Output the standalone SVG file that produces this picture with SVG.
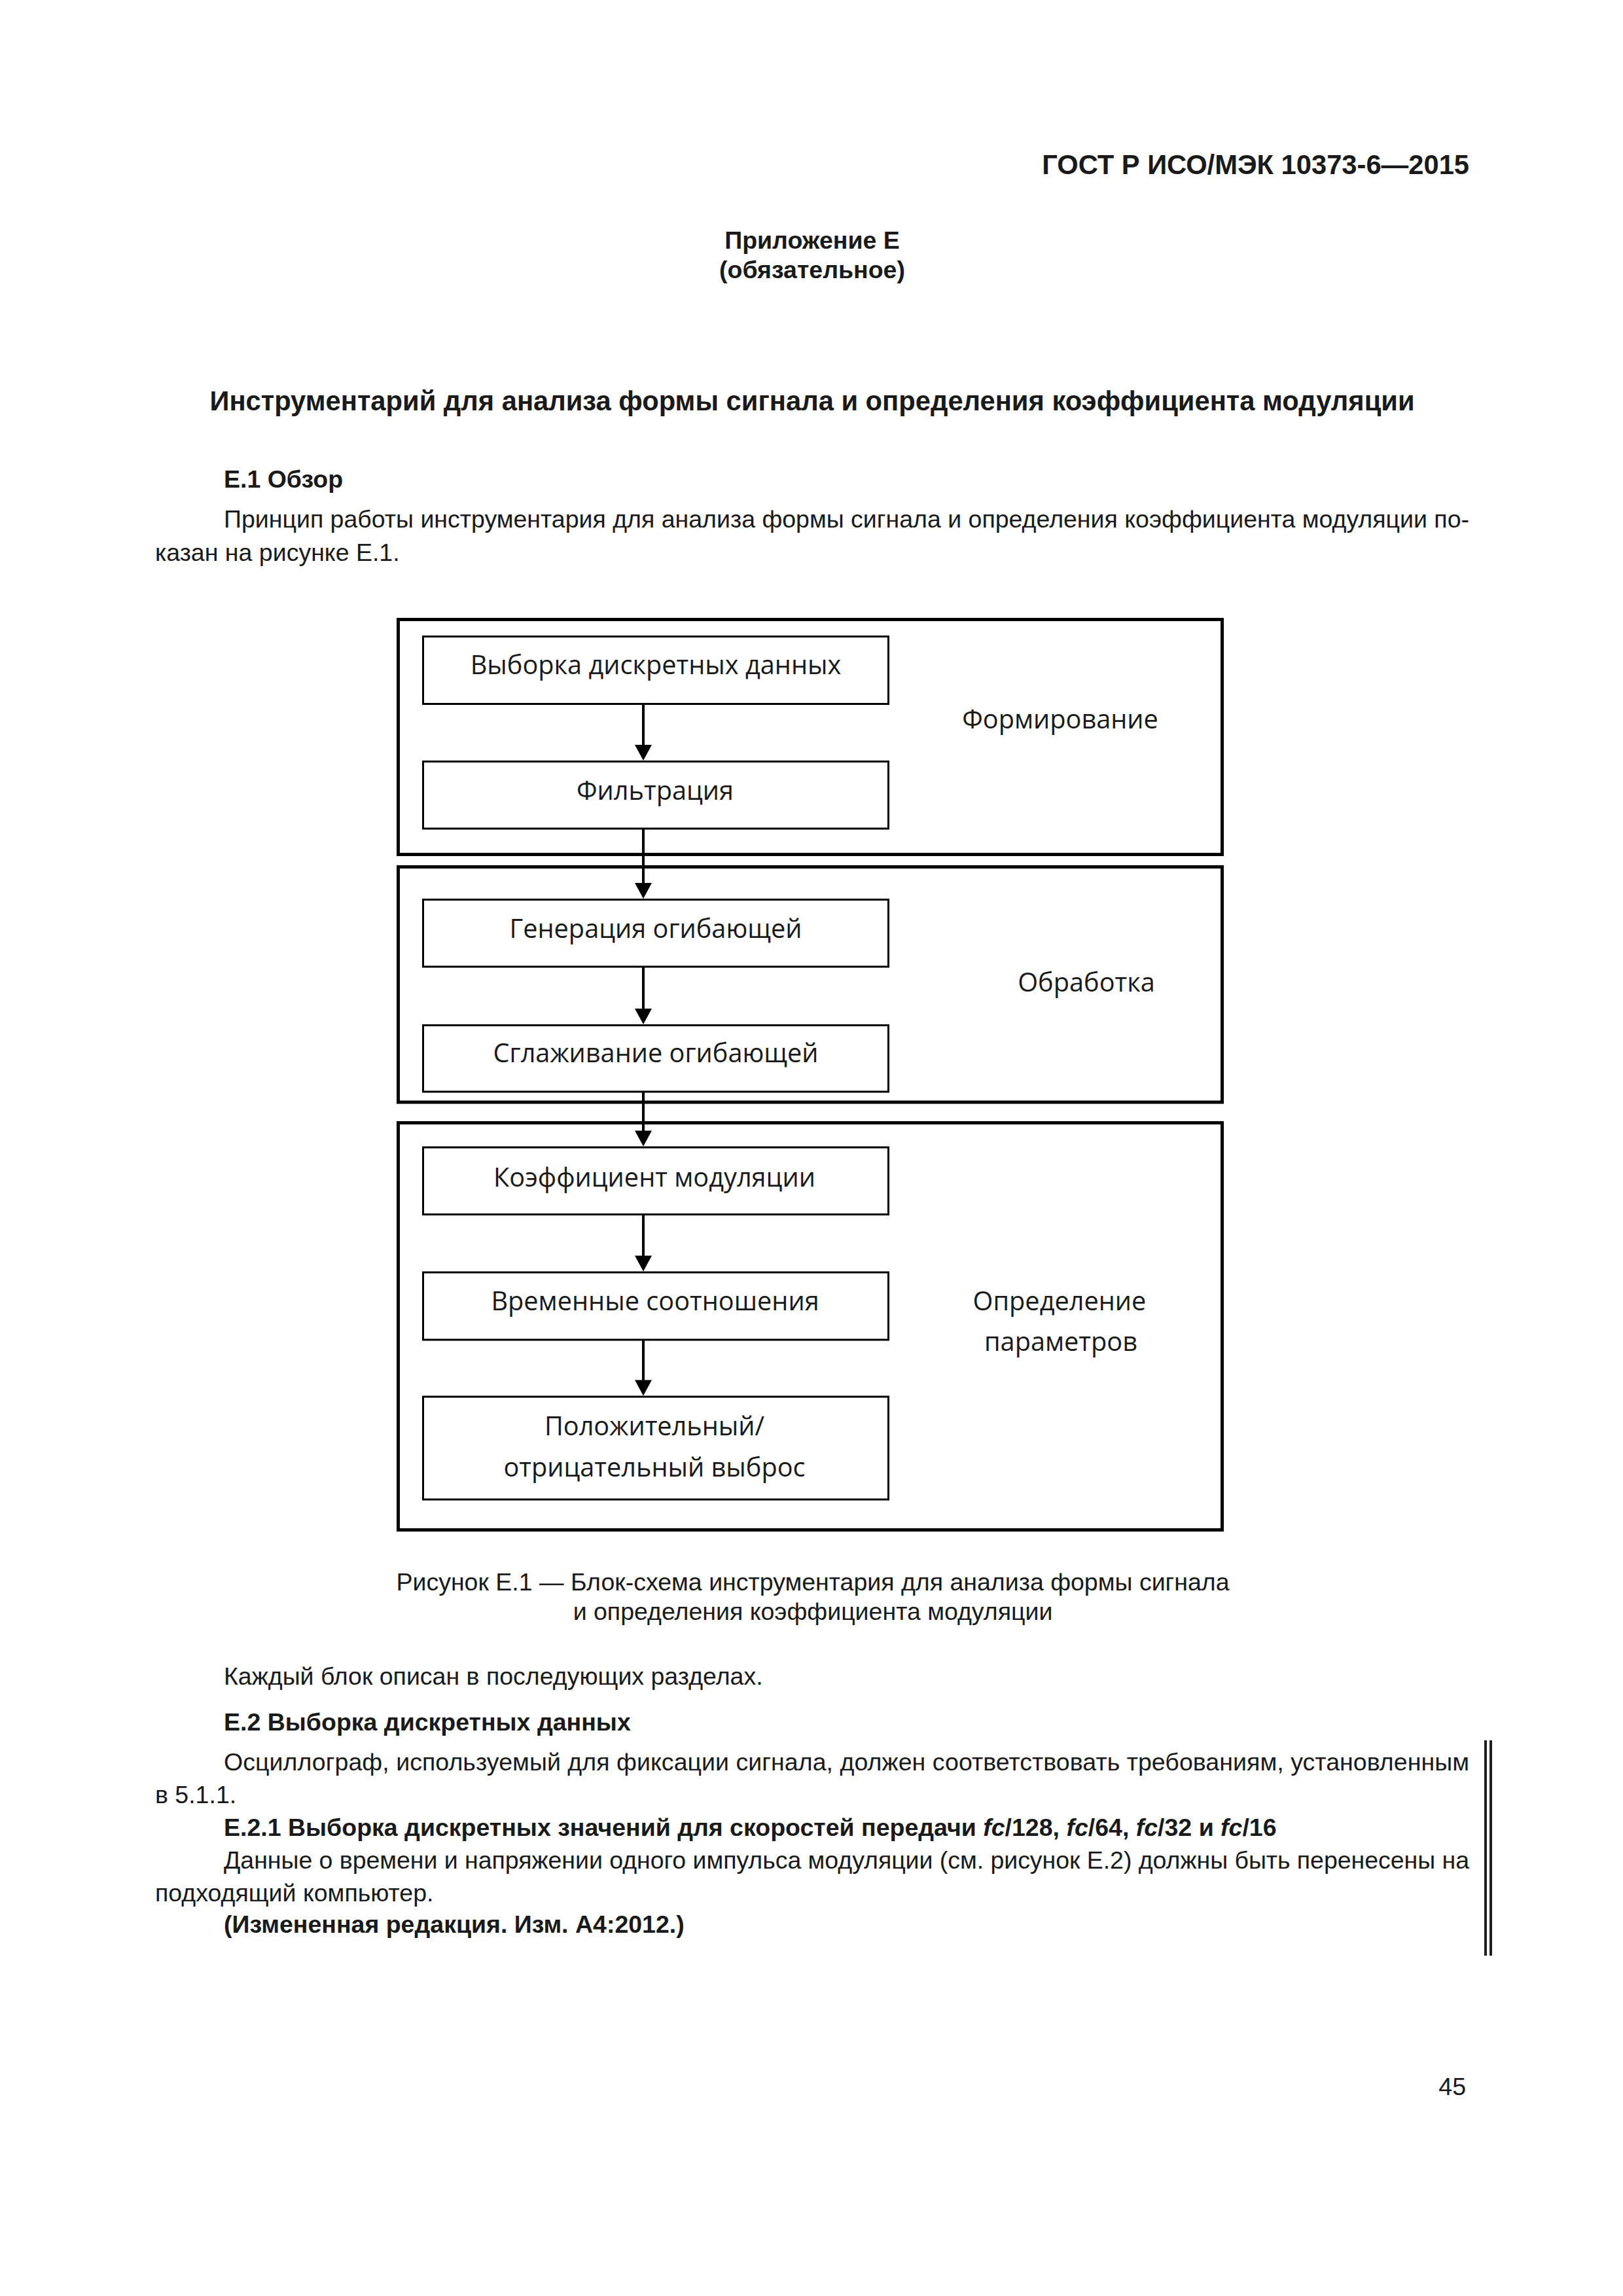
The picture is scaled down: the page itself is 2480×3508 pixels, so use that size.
<svg xmlns="http://www.w3.org/2000/svg" width="2480" height="3508" viewBox="0 0 2480 3508">
<style>
.pg{font-family:"Liberation Sans",Arial,sans-serif;fill:#1a1a1a;font-size:37.5px}
.b{font-weight:bold}
.h{font-size:41.7px;font-weight:bold}
.c{text-anchor:middle}
.dg{font-family:"Open Sans","Noto Sans",sans-serif;font-size:39.7px;fill:#1a1a1a;text-anchor:middle}
.outer{fill:none;stroke:#000;stroke-width:5}
.inner{fill:#fff;stroke:#000;stroke-width:3}
.conn{stroke:#000;stroke-width:4;fill:none;marker-end:url(#ah)}
</style>
<defs>
<marker id="ah" markerUnits="userSpaceOnUse" markerWidth="26" markerHeight="26" refX="12" refY="13" orient="auto" viewBox="0 0 24 26">
<path d="M0,0 L24,13 L0,26 z" fill="#000"/>
</marker>
</defs>
<rect width="2480" height="3508" fill="#fff"/>

<g id="page-text">
<text class="pg h" x="2245" y="266" text-anchor="end">ГОСТ Р ИСО/МЭК 10373-6—2015</text>
<text class="pg b c" x="1241" y="380">Приложение Е</text>
<text class="pg b c" x="1241" y="425">(обязательное)</text>
<text class="pg h c" x="1241" y="627">Инструментарий для анализа формы сигнала и определения коэффициента модуляции</text>
<text class="pg b" x="342" y="745">Е.1 Обзор</text>
<text class="pg" x="342" y="806" textLength="1903" lengthAdjust="spacing">Принцип работы инструментария для анализа формы сигнала и определения коэффициента модуляции по-</text>
<text class="pg" x="237" y="857">казан на рисунке Е.1.</text>
<text class="pg c" x="1242" y="2430">Рисунок Е.1 — Блок-схема инструментария для анализа формы сигнала</text>
<text class="pg c" x="1242" y="2475">и определения коэффициента модуляции</text>
<text class="pg" x="342" y="2574">Каждый блок описан в последующих разделах.</text>
<text class="pg b" x="342" y="2644">Е.2 Выборка дискретных данных</text>
<text class="pg" x="342" y="2705" textLength="1903" lengthAdjust="spacing">Осциллограф, используемый для фиксации сигнала, должен соответствовать требованиям, установленным</text>
<text class="pg" x="237" y="2755">в 5.1.1.</text>
<text class="pg b" x="342" y="2805">Е.2.1 Выборка дискретных значений для скоростей передачи <tspan font-style="italic">fc</tspan>/128, <tspan font-style="italic">fc</tspan>/64, <tspan font-style="italic">fc</tspan>/32 и <tspan font-style="italic">fc</tspan>/16</text>
<text class="pg" x="342" y="2855" textLength="1903" lengthAdjust="spacing">Данные о времени и напряжении одного импульса модуляции (см. рисунок Е.2) должны быть перенесены на</text>
<text class="pg" x="237" y="2905">подходящий компьютер.</text>
<text class="pg b" x="342" y="2953">(Измененная редакция. Изм. А4:2012.)</text>
<text class="pg" x="2240" y="3201" text-anchor="end">45</text>
</g>

<g id="change-bar">
<rect x="2268" y="2659" width="4" height="329" fill="#1f1f1f"/>
<rect x="2276" y="2659" width="4" height="329" fill="#1f1f1f"/>
</g>

<g id="stage-formirovanie">
<rect class="outer" x="608.5" y="946.5" width="1259" height="359"/>
<text class="dg" x="1620" y="1113">Формирование</text>
</g>
<g id="stage-obrabotka">
<rect class="outer" x="608.5" y="1324.5" width="1259" height="359.5"/>
<text class="dg" x="1660" y="1515">Обработка</text>
</g>
<g id="stage-opredelenie">
<rect class="outer" x="608.5" y="1715.5" width="1259" height="622"/>
<text class="dg" x="1619" y="2002">Определение</text>
<text class="dg" x="1621" y="2064">параметров</text>
</g>

<g id="connectors">
<path class="conn" d="M983,1077 V1150"/>
<path class="conn" d="M983,1267 V1361"/>
<path class="conn" d="M983,1478 V1553"/>
<path class="conn" d="M983,1664 V1739.5"/>
<path class="conn" d="M983,1857 V1930.5"/>
<path class="conn" d="M983,2048 V2120.5"/>
</g>

<g id="node-vyborka">
<rect class="inner" x="646.5" y="972.5" width="711" height="103"/>
<text class="dg" x="1002" y="1030">Выборка дискретных данных</text>
</g>
<g id="node-filtratsiya">
<rect class="inner" x="646.5" y="1163.5" width="711" height="102.5"/>
<text class="dg" x="1001" y="1222">Фильтрация</text>
</g>
<g id="node-generatsiya">
<rect class="inner" x="646.5" y="1374.5" width="711" height="102.5"/>
<text class="dg" x="1002" y="1433">Генерация огибающей</text>
</g>
<g id="node-sglazhivanie">
<rect class="inner" x="646.5" y="1566.5" width="711" height="101.5"/>
<text class="dg" x="1002" y="1623">Сглаживание огибающей</text>
</g>
<g id="node-koeff">
<rect class="inner" x="646.5" y="1753" width="711" height="102.5"/>
<text class="dg" x="1000" y="1813">Коэффициент модуляции</text>
</g>
<g id="node-vremennye">
<rect class="inner" x="646.5" y="1944" width="711" height="103"/>
<text class="dg" x="1001" y="2002">Временные соотношения</text>
</g>
<g id="node-vybros">
<rect class="inner" x="646.5" y="2134" width="711" height="157"/>
<text class="dg" x="1000" y="2193">Положительный/</text>
<text class="dg" x="1000" y="2256">отрицательный выброс</text>
</g>
</svg>
